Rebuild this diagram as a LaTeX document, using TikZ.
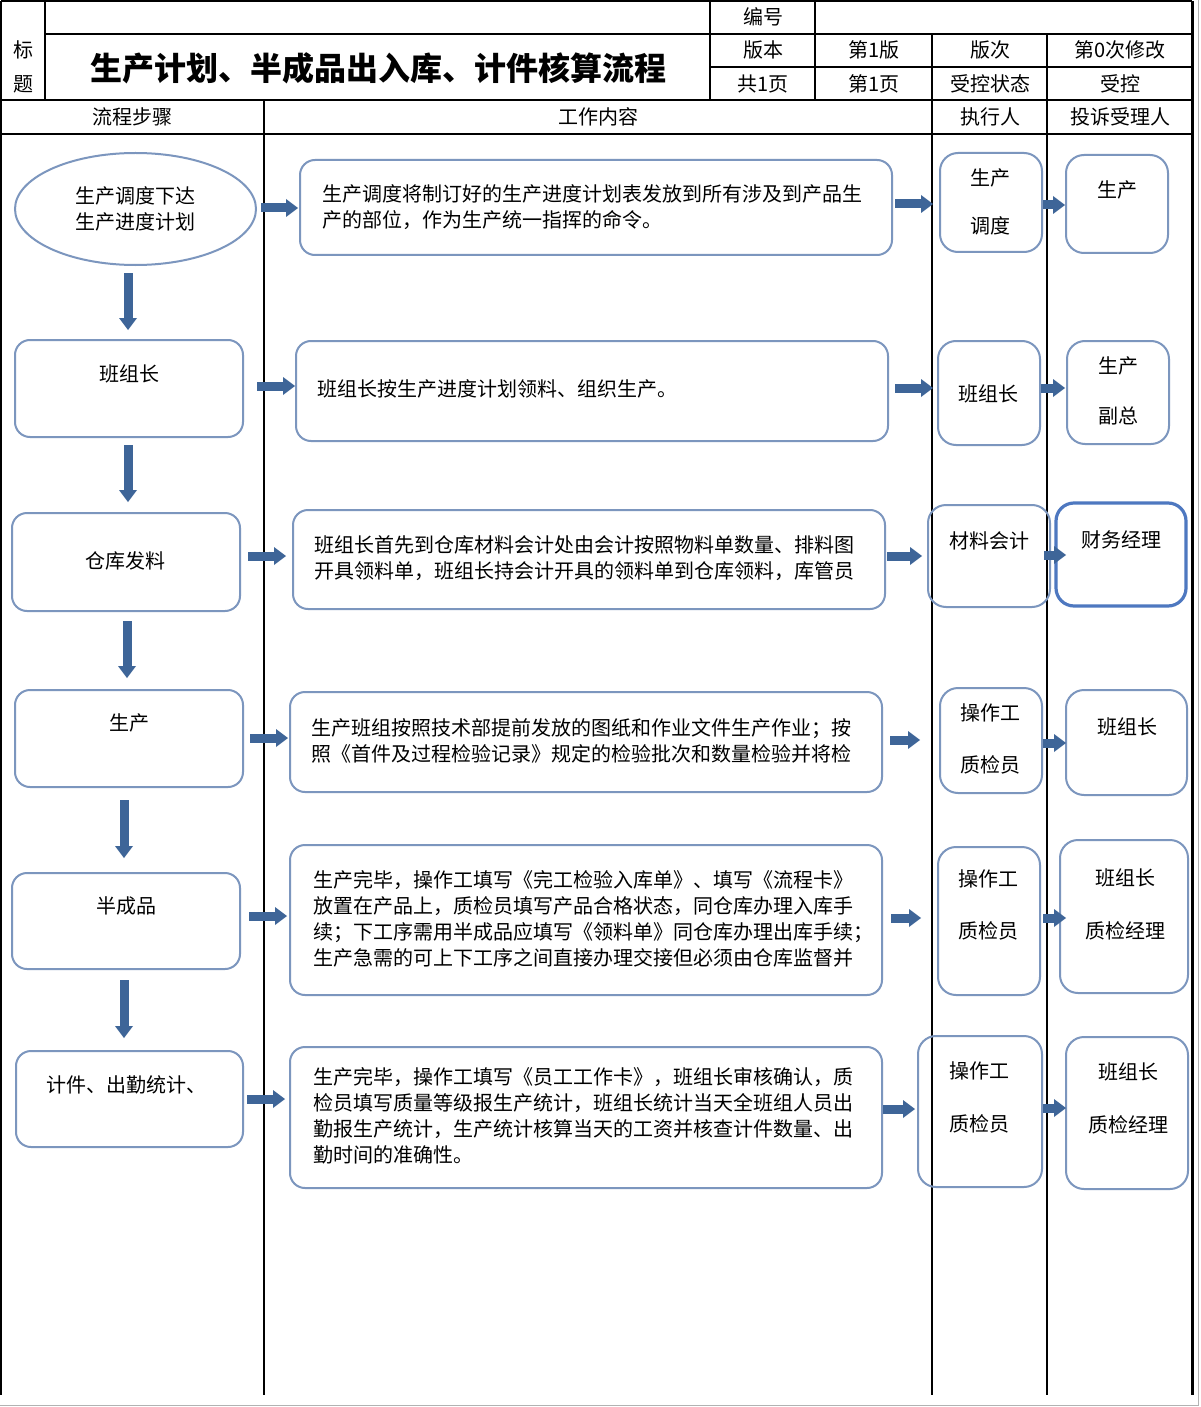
\documentclass[tikz,border=0pt]{standalone}
\usepackage{fontspec}
\setmainfont{Noto Sans CJK SC}
\usetikzlibrary{arrows.meta,shapes.geometric}
\definecolor{boxc}{RGB}{124,150,190}
\definecolor{arrc}{RGB}{62,101,152}
\definecolor{keyc}{RGB}{78,120,192}
\begin{document}
\begin{tikzpicture}[x=0.5pt,y=-0.5pt,
  grid/.style={line width=0.8pt,black},
  box/.style={draw=boxc,line width=1pt,rounded corners=7.5pt,inner sep=0pt,outer sep=0pt},
  lbl/.style={inner sep=0pt,font=\fontsize{10pt}{13pt}\selectfont,align=center},
  para/.style={inner sep=0pt,font=\fontsize{10pt}{13pt}\selectfont,align=left,anchor=west},
  ttl/.style={inner sep=0pt,font=\fontsize{16pt}{18pt}\selectfont\bfseries},
  flow/.style={draw=arrc,line width=4.5pt,-{Triangle[width=9pt,length=6pt,line width=0pt]}}]
\useasboundingbox (0,0) rectangle (1200,1407);
\fill[white] (0,0) rectangle (1200,1407);
% outer grey frame of the image
\draw[gray!60,line width=0.8pt] (1198.5,0) -- (1198.5,1405.5) -- (0,1405.5);
% table grid
\draw[grid] (1,1) -- (1192,1);
\draw[grid] (1,1) -- (1,1395);
\draw[line width=1.5pt] (1192,1) -- (1192,1395);
\draw[grid] (45,1) -- (45,100);
\draw[grid] (45,34) -- (1192,34);
\draw[grid] (710,67) -- (1192,67);
\draw[grid] (1,100) -- (1192,100);
\draw[grid] (1,134) -- (1192,134);
\draw[grid] (710,1) -- (710,100);
\draw[grid] (815,1) -- (815,100);
\draw[grid] (932,34) -- (932,100);
\draw[grid] (1047,34) -- (1047,100);
\draw[grid] (264,100) -- (264,1395);
\draw[grid] (932,100) -- (932,1395);
\draw[grid] (1047,100) -- (1047,1395);
% header texts
\node[lbl] (hb1) at (23,50) {标};
\node[lbl] (hb2) at (23,84) {题};
\node[ttl] (title) at (378,68) {生产计划、半成品出入库、计件核算流程};
\node[lbl] (h1) at (763,17) {编号};
\node[lbl] (h2) at (763,50) {版本};
\node[lbl] (h3) at (874,50) {第1版};
\node[lbl] (h4) at (990,50) {版次};
\node[lbl] (h5) at (1120,50) {第0次修改};
\node[lbl] (h6) at (763,84) {共1页};
\node[lbl] (h7) at (874,84) {第1页};
\node[lbl] (h8) at (990,84) {受控状态};
\node[lbl] (h9) at (1120,84) {受控};
\node[lbl] (k1) at (132,117) {流程步骤};
\node[lbl] (k2) at (598,117) {工作内容};
\node[lbl] (k3) at (990,117) {执行人};
\node[lbl] (k4) at (1120,117) {投诉受理人};
% left column
\node[ellipse,draw=boxc,line width=1pt,inner sep=0pt,minimum width=120.5pt,minimum height=56pt] (l1) at (135.5,209) {};
\node[box,minimum width=114pt,minimum height=48.5pt] (l2) at (129,388.5) {};
\node[box,minimum width=114pt,minimum height=49pt] (l3) at (126,562) {};
\node[box,minimum width=114pt,minimum height=48.5pt] (l4) at (129,738.5) {};
\node[box,minimum width=114pt,minimum height=48pt] (l5) at (126,921) {};
\node[box,minimum width=113.5pt,minimum height=48pt] (l6) at (129.5,1099) {};
\node[lbl] (l1t) at (135,208.5) {生产调度下达\\生产进度计划};
\node[lbl] (l2t) at (129,374) {班组长};
\node[lbl] (l3t) at (125,561) {仓库发料};
\node[lbl] (l4t) at (129,723) {生产};
\node[lbl] (l5t) at (126,906) {半成品};
\node[lbl] (l6t) at (126.5,1085) {计件、出勤统计、};
% middle column
\node[box,minimum width=296pt,minimum height=47.5pt] (m1) at (596,207.5) {};
\node[box,minimum width=296pt,minimum height=50pt] (m2) at (592,391) {};
\node[box,minimum width=296pt,minimum height=49.5pt] (m3) at (589,559.5) {};
\node[box,minimum width=296pt,minimum height=50pt] (m4) at (586,742) {};
\node[box,minimum width=296pt,minimum height=75pt] (m5) at (586,920) {};
\node[box,minimum width=296pt,minimum height=70.5pt] (m6) at (586,1117.5) {};
\node[para] (m1t) at (322,207) {生产调度将制订好的生产进度计划表发放到所有涉及到产品生\\产的部位，作为生产统一指挥的命令。};
\node[para] (m2t) at (317,389) {班组长按生产进度计划领料、组织生产。};
\node[para] (m3t) at (314,558.5) {班组长首先到仓库材料会计处由会计按照物料单数量、排料图\\开具领料单，班组长持会计开具的领料单到仓库领料，库管员};
\node[para] (m4t) at (311,741) {生产班组按照技术部提前发放的图纸和作业文件生产作业；按\\照《首件及过程检验记录》规定的检验批次和数量检验并将检};
\node[para] (m5t) at (313,918.5) {生产完毕，操作工填写《完工检验入库单》、填写《流程卡》\\放置在产品上，质检员填写产品合格状态，同仓库办理入库手\\续；下工序需用半成品应填写《领料单》同仓库办理出库手续；\\生产急需的可上下工序之间直接办理交接但必须由仓库监督并};
\node[para] (m6t) at (313,1116) {生产完毕，操作工填写《员工工作卡》，班组长审核确认，质\\检员填写质量等级报生产统计，班组长统计当天全班组人员出\\勤报生产统计，生产统计核算当天的工资并核查计件数量、出\\勤时间的准确性。};
% executor column
\node[box,rounded corners=9pt,minimum width=51pt,minimum height=49.5pt] (e1) at (991,202.5) {};
\node[box,rounded corners=9pt,minimum width=51pt,minimum height=52pt] (e2) at (989,393) {};
\node[box,rounded corners=9pt,minimum width=61pt,minimum height=51pt] (e3) at (989,556) {};
\node[box,rounded corners=9pt,minimum width=51pt,minimum height=52.5pt] (e4) at (991,740.5) {};
\node[box,rounded corners=9pt,minimum width=51pt,minimum height=74pt] (e5) at (989,921) {};
\node[box,rounded corners=9pt,minimum width=62pt,minimum height=75.5pt] (e6) at (980,1111.5) {};
\node[lbl] (e1a) at (990,178) {生产};
\node[lbl] (e1b) at (990,226) {调度};
\node[lbl] (e2a) at (988,394) {班组长};
\node[lbl] (e3a) at (989,541) {材料会计};
\node[lbl] (e4a) at (990,713) {操作工};
\node[lbl] (e4b) at (990,765) {质检员};
\node[lbl] (e5a) at (988,879) {操作工};
\node[lbl] (e5b) at (988,931) {质检员};
\node[lbl] (e6a) at (979,1071) {操作工};
\node[lbl] (e6b) at (979,1124) {质检员};
% complaint column
\node[box,rounded corners=9pt,minimum width=51pt,minimum height=49pt] (c1) at (1117,204) {};
\node[box,rounded corners=9pt,minimum width=51pt,minimum height=51.5pt] (c2) at (1118,392.5) {};
\node[box,draw=keyc,line width=1.6pt,rounded corners=9pt,minimum width=65pt,minimum height=51.5pt] (c3) at (1121,554.5) {};
\node[box,rounded corners=9pt,minimum width=60.5pt,minimum height=52.5pt] (c4) at (1126.5,742.5) {};
\node[box,rounded corners=9pt,minimum width=64pt,minimum height=76.5pt] (c5) at (1124,916.5) {};
\node[box,rounded corners=9pt,minimum width=61pt,minimum height=76pt] (c6) at (1127,1113) {};
\node[lbl] (c1a) at (1117,190) {生产};
\node[lbl] (c2a) at (1118,366) {生产};
\node[lbl] (c2b) at (1118,416) {副总};
\node[lbl] (c3a) at (1121,540) {财务经理};
\node[lbl] (c4a) at (1127,727) {班组长};
\node[lbl] (c5a) at (1125,878) {班组长};
\node[lbl] (c5b) at (1125,931) {质检经理};
\node[lbl] (c6a) at (1128,1072) {班组长};
\node[lbl] (c6b) at (1128,1125) {质检经理};
% arrow rows and columns
\coordinate (y1) at (0,208);
\coordinate (y2) at (0,386);
\coordinate (y3) at (0,556);
\coordinate (y4) at (0,738);
\coordinate (y5) at (0,916);
\coordinate (y6) at (0,1099);
\coordinate (z1) at (0,204);
\coordinate (z2) at (0,388);
\coordinate (z3) at (0,556);
\coordinate (z4) at (0,740);
\coordinate (z5) at (0,918);
\coordinate (z6) at (0,1109);
\coordinate (w1) at (0,205);
\coordinate (w2) at (0,388);
\coordinate (w3) at (0,555);
\coordinate (w4) at (0,743);
\coordinate (w5) at (0,918);
\coordinate (w6) at (0,1108);
\coordinate (v1) at (128,0);
\coordinate (v2) at (128,0);
\coordinate (v3) at (127,0);
\coordinate (v4) at (124,0);
\coordinate (v5) at (124,0);
% vertical flow
\draw[flow,shorten <=3.5pt,shorten >=5pt] (l1.south -| v1) -- (l2.north -| v1);
\draw[flow,shorten <=4pt,shorten >=5.5pt] (l2.south -| v2) -- (l3.north -| v2);
\draw[flow,shorten <=5pt,shorten >=6pt] (l3.south -| v3) -- (l4.north -| v3);
\draw[flow,shorten <=6.5pt,shorten >=7.5pt] (l4.south -| v4) -- (l5.north -| v4);
\draw[flow,shorten <=5.5pt,shorten >=6.5pt] (l5.south -| v5) -- (l6.north -| v5);
% left to middle
\draw[flow,shorten <=2pt,shorten >=1pt] (l1.east |- y1) -- (m1.west |- y1);
\draw[flow,shorten <=7pt,shorten >=0.5pt] (l2.east |- y2) -- (m2.west |- y2);
\draw[flow,shorten <=4pt,shorten >=3.5pt] (l3.east |- y3) -- (m3.west |- y3);
\draw[flow,shorten <=3.5pt,shorten >=1pt] (l4.east |- y4) -- (m4.west |- y4);
\draw[flow,shorten <=4.5pt,shorten >=1.5pt] (l5.east |- y5) -- (m5.west |- y5);
\draw[flow,shorten <=2pt,shorten >=2.5pt] (l6.east |- y6) -- (m6.west |- y6);
% middle to executor
\draw[flow,shorten <=1.5pt,shorten >=3.5pt] (m1.east |- z1) -- (e1.west |- z1);
\draw[flow,shorten <=3.5pt,shorten >=2.5pt] (m2.east |- z2) -- (e2.west |- z2);
\draw[flow,shorten <=1pt,shorten >=3pt] (m3.east |- z3) -- (e3.west |- z3);
\draw[flow,shorten <=4pt,shorten >=10pt] (m4.east |- z4) -- (e4.west |- z4);
\draw[flow,shorten <=4.5pt,shorten >=8.5pt] (m5.east |- z5) -- (e5.west |- z5);
\draw[flow,shorten <=0.5pt,shorten >=1.5pt] (m6.east |- z6) -- (e6.west |- z6);
% executor to complaint
\draw[flow,shorten <=0.5pt,shorten >=0.5pt] (e1.east |- w1) -- (c1.west |- w1);
\draw[flow,shorten <=0.5pt,shorten >=1pt] (e2.east |- w2) -- (c2.west |- w2);
\draw[flow,shorten <=-3pt,shorten >=-5pt] (e3.east |- w3) -- (c3.west |- w3);
\draw[flow,shorten <=0.5pt,shorten >=0pt] (e4.east |- w4) -- (c4.west |- w4);
\draw[flow,shorten <=1.5pt,shorten >=-3pt] (e5.east |- w5) -- (c5.west |- w5);
\draw[flow,shorten <=0.5pt,shorten >=0pt] (e6.east |- w6) -- (c6.west |- w6);
\end{tikzpicture}
\end{document}
